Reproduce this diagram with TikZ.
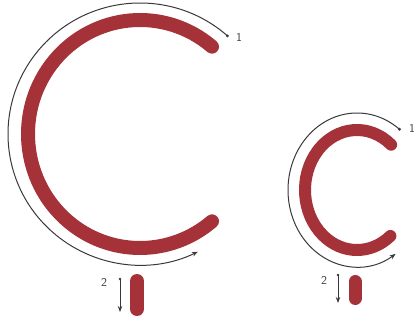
\documentclass[tikz,border=0pt]{standalone}
\usetikzlibrary{arrows.meta}
\definecolor{cred}{RGB}{164,50,56}
\definecolor{cline}{RGB}{60,55,60}
\begin{document}
\begin{tikzpicture}[x=1pt,y=1pt,
  letterstroke/.style={draw=cred,line cap=round},
  guide/.style={draw=cline,line width=1pt,-{Stealth[length=6pt,width=4.5pt]}},
  startdot/.style={circle,fill=cline,inner sep=0pt,minimum size=3.2pt},
  lab/.style={font=\sffamily\fontsize{12}{12}\selectfont,text=cline,inner sep=0pt},
  pill/.style={draw=cred,line cap=round}]
\useasboundingbox (0,0) rectangle (419,329);
% centres
\coordinate (cB) at (140,195);
\coordinate (cS) at (357,139);
% big C
\draw[letterstroke,line width=14pt] ([shift={(50:112pt and 114pt)}]cB) arc[start angle=50,end angle=310,x radius=112pt,y radius=114pt];
\coordinate (sB) at ([shift={(48.5:132pt and 131pt)}]cB);
\draw[guide] (sB) arc[start angle=48.5,end angle=296,x radius=132pt,y radius=131pt];
\node[startdot] (dB) at (sB) {};
\node[lab] (oneB) at (239,292) {1};
% big pill and arrow 2
\coordinate (pB1) at (137,48);
\coordinate (pB2) at (137,20);
\draw[pill,line width=14pt] (pB1) -- (pB2);
\node[startdot,minimum size=2.8pt] (aB1) at (120,50) {};
\coordinate (aB2) at (120,17);
\draw[guide] (aB1.center) -- (aB2);
\node[lab] (twoB) at (104,47) {2};
% small C
\draw[letterstroke,line width=12pt] ([shift={(49:52pt and 60pt)}]cS) arc[start angle=49,end angle=310,x radius=52pt,y radius=60pt];
\coordinate (sS) at ([shift={(52:69pt and 77pt)}]cS);
\draw[guide] (sS) arc[start angle=52,end angle=304,x radius=69pt,y radius=77pt];
\node[startdot] (dS) at (sS) {};
\node[lab] (oneS) at (412,201) {1};
% small pill and arrow 2
\coordinate (pS1) at (355,47.5);
\coordinate (pS2) at (355,30.5);
\draw[pill,line width=13pt] (pS1) -- (pS2);
\node[startdot,minimum size=2.8pt] (aS1) at (338,54) {};
\coordinate (aS2) at (338,26);
\draw[guide] (aS1.center) -- (aS2);
\node[lab] (twoS) at (324,49) {2};
\end{tikzpicture}
\end{document}
